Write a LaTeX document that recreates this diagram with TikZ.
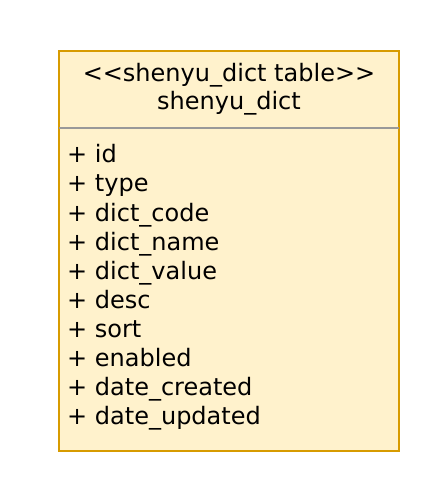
\documentclass[tikz,border=0pt]{standalone}
\usepackage{fontspec}
\setmainfont{DejaVu Sans}
\definecolor{boxfill}{HTML}{FFF2CC}
\definecolor{boxline}{HTML}{D79B00}
\definecolor{sepline}{HTML}{999999}
\begin{document}
\begin{tikzpicture}[x=1bp,y=-1bp,
  lbl/.style={inner sep=0pt,anchor=base west,font=\fontsize{24bp}{29bp}\selectfont},
  hdr/.style={inner sep=0pt,anchor=base,font=\fontsize{24bp}{29bp}\selectfont}]
\useasboundingbox (0,0) rectangle (440,488);
\path[fill=boxfill,draw=boxline,line width=1.5bp] (59,51) rectangle (399,451);
\draw[sepline,line width=1.5bp] (59,128) -- (399,128);
\node[hdr] (h1) at (229,82) {{<}{<}shenyu\_dict table{>}{>}};
\node[hdr] (h2) at (229,110) {shenyu\_dict};
\foreach \t [count=\i from 0] in {id,type,dict\_code,dict\_name,dict\_value,desc,sort,enabled,date\_created,date\_updated}{
  \node[lbl] (f\i) at (67,163+29*\i) {+ \t};
}
\end{tikzpicture}
\end{document}
